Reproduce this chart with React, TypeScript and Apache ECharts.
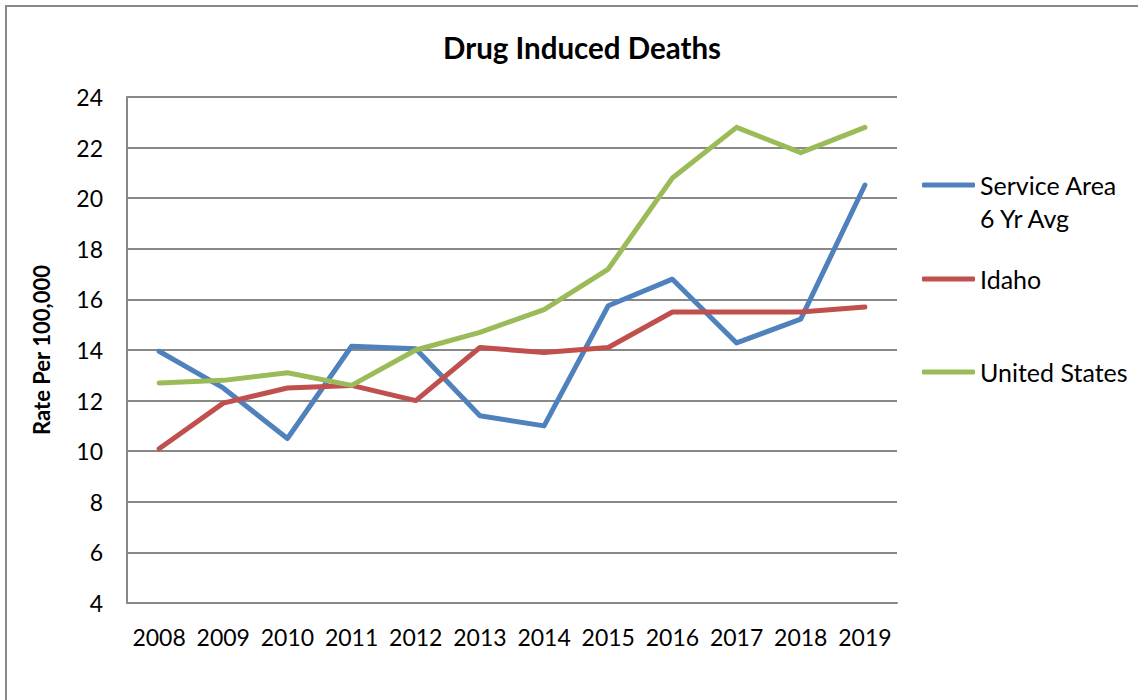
import React, { useEffect, useRef } from "react";
import * as echarts from "echarts";

const years = ["2008", "2009", "2010", "2011", "2012", "2013", "2014", "2015", "2016", "2017", "2018", "2019"];
const serviceArea = [13.95, 12.5, 10.5, 14.15, 14.05, 11.4, 11.0, 15.75, 16.8, 14.28, 15.22, 20.52];
const idaho = [10.1, 11.9, 12.5, 12.6, 12.0, 14.1, 13.9, 14.1, 15.5, 15.5, 15.5, 15.7];
const unitedStates = [12.7, 12.8, 13.1, 12.6, 14.0, 14.7, 15.6, 17.2, 20.8, 22.8, 21.8, 22.8];

const seriesNames = ["Service Area 6 Yr Avg", "Idaho", "United States"];
const seriesColors = ["#4F81BD", "#C0504D", "#9BBB59"];
const titleText = "Drug Induced Deaths";
const yAxisName = "Rate Per 100,000";

const FONT = "Lato, 'Noto Sans', sans-serif";

export default function App() {
  const ref = useRef<HTMLDivElement>(null);
  useEffect(() => {
    if (!ref.current) return;
    const chart = echarts.init(ref.current, undefined, { renderer: "svg" });
    const values = [serviceArea, idaho, unitedStates];
    const LH = 33;
    const legendBase = {
      orient: "vertical",
      left: 922,
      padding: 0,
      itemWidth: 53,
      itemHeight: 5,
      icon: "roundRect",
      selectedMode: false,
      textStyle: { fontFamily: FONT, fontSize: 25, color: "#000", lineHeight: LH },
    };
    chart.setOption({
      animation: false,
      backgroundColor: "#fff",
      title: {
        text: titleText,
        left: 577,
        textAlign: "center",
        top: 27,
        textStyle: { fontFamily: FONT, fontSize: 29.5, fontWeight: "bold", color: "#000" },
      },
      graphic: [
        {
          type: "rect",
          shape: { x: 6, y: 6, width: 1150, height: 720 },
          style: { fill: "none", stroke: "#888", lineWidth: 2 },
          silent: true,
        },
      ],
      legend: [
        {
          ...legendBase,
          top: 185 - LH * 1.5,
          data: [seriesNames[0]],
          formatter: () => " \nService Area\n6 Yr Avg",
        },
        { ...legendBase, top: 279 - LH / 2, data: [seriesNames[1]] },
        { ...legendBase, top: 372 - LH / 2, data: [seriesNames[2]] },
      ],
      grid: { left: 127, top: 97, width: 770, height: 506 },
      xAxis: {
        type: "category",
        data: years,
        boundaryGap: true,
        axisLine: { show: true, lineStyle: { color: "#888", width: 2 } },
        axisTick: { show: false },
        axisLabel: { fontFamily: FONT, fontSize: 23, color: "#000", margin: 22, interval: 0 },
      },
      yAxis: {
        type: "value",
        min: 4,
        max: 24,
        interval: 2,
        name: yAxisName,
        nameLocation: "middle",
        nameRotate: 90,
        nameGap: 75,
        nameTextStyle: { fontFamily: FONT, fontSize: 22, fontWeight: "bold", color: "#000" },
        axisLine: { show: true, lineStyle: { color: "#888", width: 2 } },
        axisTick: { show: false },
        axisLabel: { fontFamily: FONT, fontSize: 23, color: "#000", margin: 24 },
        splitLine: { show: true, lineStyle: { color: "#888", width: 2 } },
      },
      series: seriesNames.map((name, i) => ({
        name,
        type: "line",
        data: values[i],
        symbol: "none",
        color: seriesColors[i],
        lineStyle: { width: 5, color: seriesColors[i], cap: "round", join: "round" },
      })),
    });
    return () => chart.dispose();
  }, []);
  return (
    <div
      ref={ref}
      style={{ position: "absolute", left: 0, top: 0, width: 1138, height: 700, background: "#fff" }}
    />
  );
}
